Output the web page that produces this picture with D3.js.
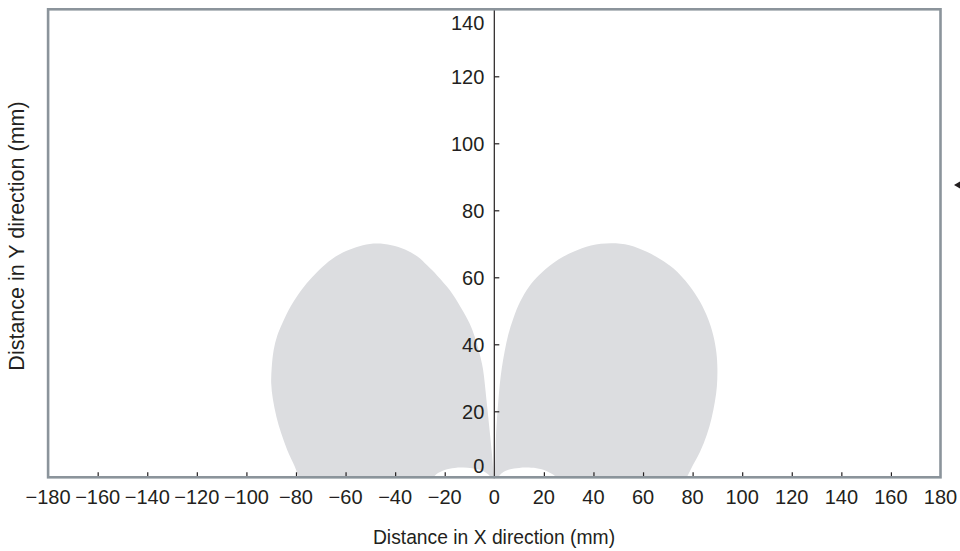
<!DOCTYPE html>
<html><head><meta charset="utf-8">
<script src="https://cdn.jsdelivr.net/npm/d3@7"></script>
<style>
body{margin:0;background:#fff}
text{font-family:"Liberation Sans",Arial,Helvetica,sans-serif;fill:#231f20}
</style>
</head><body>
<svg id="chart" width="960" height="551"></svg>
<script>
// ---- data (mm) ----
const xTickValues = [-180,-160,-140,-120,-100,-80,-60,-40,-20,0,20,40,60,80,100,120,140,160,180];
const yTickValues = [0,20,40,60,80,100,120,140];
const xTitle = "Distance in X direction (mm)";
const yTitle = "Distance in Y direction (mm)";

// right lobe outline: inner edge bottom -> top -> outer edge bottom
const rightLobe = [[0.2,0],[0.4,6],[0.7,12.9],[1.1,18],[1.6,22.9],[2.2,28],[3,32.8],[4.2,38],[5.6,42.8],[7.7,47.8],[10.4,52.7],[14,57.2],[18,60.6],[21.1,62.7],[26,65.4],[31.9,67.6],[39,69.5],[47,70.2],[54.5,69.6],[61.5,67.6],[67,65.4],[72.2,62.7],[78.7,57.5],[83,52.7],[86.3,47.5],[88.3,42.8],[89.6,37.5],[90,32.8],[89.8,27.5],[89,22.9],[87.6,17.8],[85.7,12.9],[83,7.9],[79.5,3],[77.5,0]];
// left lobe outline: inner edge bottom -> top -> outer edge bottom
const leftLobe = [[-0.2,0],[-0.8,6],[-1.7,12.9],[-2.4,18],[-3.1,22.9],[-3.8,28],[-4.6,32.8],[-6.2,38],[-8,42.5],[-10,46.3],[-13.5,51],[-18,56.2],[-23,60.5],[-27,63.5],[-31,66.2],[-36,68.3],[-41.5,69.6],[-47.4,70.1],[-53,69.6],[-58.5,68.2],[-64,66.2],[-69.5,63],[-73.5,60],[-77.8,56.2],[-82,51.5],[-85.5,46.3],[-87.6,42.5],[-89,38.3],[-89.8,33],[-90,28.4],[-89.3,23.5],[-87.9,18.4],[-86,13.5],[-83.5,8.4],[-80.5,3.5],[-78.8,0]];
// white arches cut out at the base of each lobe
const rightArch = [[1.2,0],[3,1.5],[6,2.6],[10,3.1],[13,3.2],[17,3.0],[21,2.2],[24,1.0],[25.4,0]];
const leftArch = [[-24.8,0],[-23,1.4],[-20,2.5],[-16,3.1],[-12.5,3.2],[-9,3.0],[-5,2.3],[-2.5,1.2],[-1,0]];

// ---- layout ----
const svg = d3.select("#chart");
const x = d3.scaleLinear().domain([-180,180]).range([48.1,940.5]);
const y = d3.scaleLinear().domain([0,140]).range([478.3,9.3]);
const tickFont = 20;

svg.append("defs").append("clipPath").attr("id","plotClip")
  .append("rect").attr("x",x(-180)).attr("y",y(140))
  .attr("width",x(180)-x(-180)).attr("height",y(0)-y(140));

const g = svg.append("g").attr("clip-path","url(#plotClip)");
const curve = d3.line().x(d=>x(d[0])).y(d=>y(d[1])).curve(d3.curveCatmullRom.alpha(0.5));

function closedBelow(pts){
  const first = pts[0], last = pts[pts.length-1];
  return curve(pts) + "L" + x(last[0]) + "," + y(-5) + "L" + x(first[0]) + "," + y(-5) + "Z";
}
[rightLobe,leftLobe].forEach(p=>{
  g.append("path").attr("d",closedBelow(p)).attr("fill","#dcdde0");
});
[rightArch,leftArch].forEach(p=>{
  g.append("path").attr("d",closedBelow(p)).attr("fill","#ffffff");
});

// y axis line at x=0 with ticks to the right
const yAxis = d3.axisRight(y).tickValues(yTickValues.filter(v=>v>0&&v<140)).tickSize(5).tickFormat("");
const ya = svg.append("g").attr("transform",`translate(${x(0)},0)`).call(yAxis);
ya.select(".domain").remove();
ya.selectAll(".tick line").attr("stroke","#231f20").attr("stroke-width",1.2);
svg.append("line").attr("x1",x(0)).attr("x2",x(0)).attr("y1",y(140)).attr("y2",y(0))
  .attr("stroke","#231f20").attr("stroke-width",1.2);

// y tick labels (left of axis); end labels nudged inside the frame
svg.selectAll("text.ylab").data(yTickValues).enter().append("text")
  .attr("class","ylab")
  .attr("x",x(0)-10)
  .attr("y",d=> d===0 ? y(d)-13 : (d===140 ? y(d)+13 : y(d)))
  .attr("dy","0.36em")
  .attr("text-anchor","end")
  .style("font-size",tickFont+"px")
  .text(d=>d3.format("d")(d));

// x axis ticks (inward) on the bottom frame
const xAxis = d3.axisTop(x).tickValues(xTickValues.filter(v=>Math.abs(v)<180 && v!==0)).tickSize(5).tickFormat("");
const xa = svg.append("g").attr("transform",`translate(0,${y(0)-1})`).call(xAxis);
xa.select(".domain").remove();
xa.selectAll(".tick line").attr("stroke","#231f20").attr("stroke-width",1.2);

// x tick labels
svg.selectAll("text.xlab").data(xTickValues).enter().append("text")
  .attr("class","xlab")
  .attr("x",d=>x(d))
  .attr("y",504)
  .attr("text-anchor","middle")
  .style("font-size",tickFont+"px")
  .text(d=> d<0 ? "\u2212"+Math.abs(d) : String(d));

// frame
svg.append("rect").attr("x",x(-180)).attr("y",y(140))
  .attr("width",x(180)-x(-180)).attr("height",y(0)-y(140)-1)
  .attr("fill","none").attr("stroke","#8b949b").attr("stroke-width",2.6);

// axis titles
svg.append("text").attr("x",494).attr("y",544)
  .attr("text-anchor","middle").style("font-size","19.3px").text(xTitle);
svg.append("text").attr("transform",`translate(24,236) rotate(-90)`)
  .attr("text-anchor","middle").style("font-size","21.5px").text(yTitle);

// partial arrowhead at right edge
svg.append("path").attr("d","M954,185L961,181L961,189Z").attr("fill","#231f20");
</script>
</body></html>
